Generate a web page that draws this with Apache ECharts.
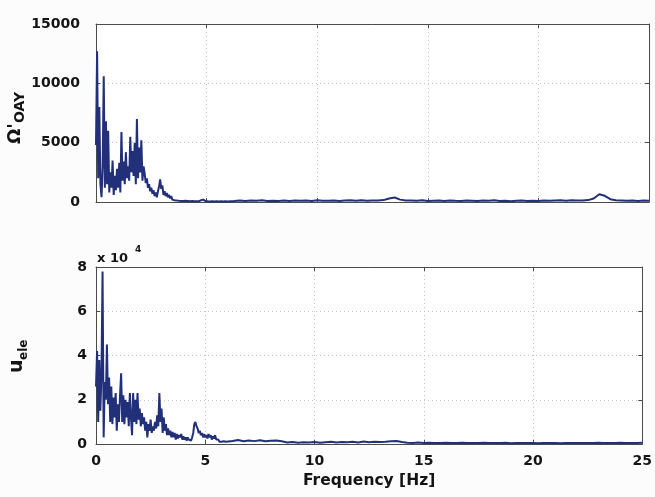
<!DOCTYPE html>
<html>
<head>
<meta charset="utf-8">
<script src="https://cdn.jsdelivr.net/npm/echarts@6/dist/echarts.min.js"></script>
<style>
  html, body { margin: 0; padding: 0; background: #fcfcfc; }
  #chart { width: 655px; height: 497px; }
</style>
</head>
<body>
<div id="chart"></div>
<script>
// Frequency sampling: dense band 0–6 Hz, coarser tail 6.25–25 Hz
const lowBandStep = 0.05;   // Hz
const tailStep = 0.25;      // Hz
const tailStart = 6.25;     // Hz

// Ω'_OAY spectrum, 0–6 Hz
const omegaLow = [
  4800,12700,2000,8000,1500,400,3000,10600,1200,6800,1500,6000,800,2500,1200,3500,600,2200,1000,2800,
  1200,3300,800,5900,1800,3400,1500,4200,2000,3000,1800,5500,2500,4300,2200,5000,1500,7000,2000,4600,
  2500,5200,1800,3000,2400,1600,2000,1200,1500,900,1200,700,1000,500,800,400,900,1300,1900,1100,
  1400,600,900,500,750,400,600,300,500,200,350,150,250,120,200,100,180,90,150,80,
  140,100,180,90,150,70,130,80,110,60,100,70,120,60,90,150,250,200,120,80,
  110,60,90,50,80,60,100,50,80,60,90,50,70,60,80,50,70,60,80,50,70
];
// Ω'_OAY spectrum, 6.25–25 Hz
const omegaTail = [
  90,130,80,120,100,140,90,110,80,120,
  90,130,100,120,80,140,110,100,130,90,120,140,100,150,110,130,120,160,
  300,380,200,130,
  120,100,140,90,110,130,80,120,100,90,130,110,80,120,100,140,90,110,70,100,
  120,80,110,90,130,100,120,140,110,150,130,120,160,300,
  650,520,240,150,130,110,130,90,120,100
];

// u_ele spectrum (×10^-4), 0–6 Hz
const uLow = [
  2.6,4.2,1.0,3.8,1.5,3.2,7.8,0.3,2.8,2.0,4.5,1.8,3.0,1.0,2.6,0.9,2.1,1.2,2.3,0.6,
  1.8,1.0,2.2,3.2,1.0,2.2,0.9,2.0,1.2,1.9,0.8,2.3,1.2,0.4,2.3,1.0,2.0,0.9,2.3,1.1,
  1.6,0.8,1.4,0.9,1.2,0.6,1.0,0.3,0.9,0.6,1.1,0.5,0.8,0.6,1.0,0.7,1.3,0.8,2.3,1.0,
  1.6,0.5,1.2,0.6,0.9,0.4,0.7,0.4,0.6,0.3,0.55,0.3,0.5,0.2,0.45,0.25,0.4,0.3,0.45,0.2,
  0.35,0.2,0.3,0.15,0.3,0.2,0.25,0.15,0.3,0.5,0.9,1.0,0.8,0.7,0.5,0.6,0.4,0.5,0.3,0.45,
  0.3,0.4,0.25,0.45,0.3,0.4,0.2,0.35,0.25,0.4,0.2,0.15,0.2,0.1,0.15,0.1,0.15,0.12,0.18,0.1,0.15
];
// u_ele spectrum (×10^-4), 6.25–25 Hz
const uTail = [
  0.14,0.18,0.12,0.16,0.13,0.17,0.12,0.15,0.16,0.12,
  0.07,0.09,0.06,0.08,0.07,0.09,0.06,0.08,0.1,0.07,0.09,0.08,0.1,0.07,0.11,0.08,0.1,0.09,
  0.1,0.12,0.14,0.09,
  0.06,0.05,0.07,0.05,0.06,0.04,0.05,0.06,0.04,0.05,0.06,0.04,0.05,0.04,0.06,0.05,0.04,
  0.05,0.06,0.03,0.04,0.05,0.04,0.05,0.03,0.04,0.05,0.04,0.03,0.05,0.04,0.05,0.04,0.05,
  0.05,0.06,0.05,0.04,0.05,0.06,0.05,0.04,0.05,0.06
];

// Axis ticks
const freqTicks = [0, 5, 10, 15, 20, 25];
const omegaTicks = [0, 5000, 10000, 15000];
const uTicks = [0, 2, 4, 6, 8];

function toPairs(low, tail) {
  const pts = low.map((v, i) => [+(i * lowBandStep).toFixed(2), v]);
  tail.forEach((v, i) => pts.push([tailStart + i * tailStep, v]));
  return pts;
}

const FONT = 'DejaVu Sans';
const TXT = '#141414';
const FRAME = '#4a4a4a';
const LINE = '#22307a';
const GRIDLINE = { show: true, lineStyle: { color: '#c4c4c4', type: [1, 3], width: 1 } };

function xAxes(gridIndex, withLabels) {
  const base = {
    gridIndex, type: 'value',
    min: freqTicks[0], max: freqTicks[freqTicks.length - 1], interval: freqTicks[1] - freqTicks[0],
    axisLine: { show: true, onZero: false, lineStyle: { color: FRAME, width: 1 } },
    axisTick: { show: true, inside: true, length: 4, lineStyle: { color: FRAME } }
  };
  return [
    Object.assign({}, base, {
      position: 'bottom',
      axisLabel: withLabels
        ? { show: true, margin: 10, color: TXT, fontFamily: FONT, fontWeight: 'bold', fontSize: 14, formatter: v => String(v) }
        : { show: false },
      splitLine: GRIDLINE,
      name: withLabels ? 'Frequency [Hz]' : '',
      nameLocation: 'middle', nameGap: 29,
      nameTextStyle: { color: TXT, fontFamily: FONT, fontWeight: 'bold', fontSize: 15.5 }
    }),
    Object.assign({}, base, {
      position: 'top',
      axisLabel: { show: false }, splitLine: { show: false }
    })
  ];
}

function yAxes(gridIndex, ticks, labelMargin) {
  const base = {
    gridIndex, type: 'value',
    min: ticks[0], max: ticks[ticks.length - 1], interval: ticks[1] - ticks[0],
    axisLine: { show: true, onZero: false, lineStyle: { color: FRAME, width: 1 } },
    axisTick: { show: true, inside: true, length: 4, lineStyle: { color: FRAME } }
  };
  return [
    Object.assign({}, base, {
      position: 'left',
      axisLabel: { show: true, margin: labelMargin, color: TXT, fontFamily: FONT, fontWeight: 'bold', fontSize: 14, formatter: v => String(v) },
      splitLine: GRIDLINE
    }),
    Object.assign({}, base, {
      position: 'right',
      axisLabel: { show: false }, splitLine: { show: false }
    })
  ];
}

const chart = echarts.init(document.getElementById('chart'), null, { renderer: 'canvas' });

chart.setOption({
  backgroundColor: '#fcfcfc',
  animation: false,
  grid: [
    { left: 96, right: 6, top: 24, height: 178, show: true, backgroundColor: '#ffffff', borderWidth: 0 },
    { left: 96, right: 6, top: 267, height: 177, show: true, backgroundColor: '#ffffff', borderWidth: 0 }
  ],
  xAxis: [...xAxes(0, false), ...xAxes(1, true)],
  yAxis: [...yAxes(0, omegaTicks, 16), ...yAxes(1, uTicks, 9)],
  series: [
    {
      type: 'line', xAxisIndex: 0, yAxisIndex: 0, data: toPairs(omegaLow, omegaTail),
      showSymbol: false, symbol: 'none', lineStyle: { color: LINE, width: 2 }
    },
    {
      type: 'line', xAxisIndex: 2, yAxisIndex: 2, data: toPairs(uLow, uTail),
      showSymbol: false, symbol: 'none', lineStyle: { color: LINE, width: 2 }
    }
  ],
  graphic: [
    // y-axis name of the upper panel: Ω'_OAY
    {
      type: 'group', x: 24, y: 144, rotation: Math.PI / 2,
      children: [
        { type: 'text', x: 0, y: 0, style: { text: "Ω'", fontFamily: FONT, fontWeight: 'bold', fontSize: 18, fill: TXT, verticalAlign: 'bottom' } },
        { type: 'text', x: 21, y: 3, style: { text: 'OAY', fontFamily: FONT, fontWeight: 'bold', fontSize: 14, fill: TXT, verticalAlign: 'bottom' } }
      ]
    },
    // y-axis name of the lower panel: u_ele
    {
      type: 'group', x: 27, y: 373, rotation: Math.PI / 2,
      children: [
        { type: 'text', x: 0, y: 0, style: { text: 'u', fontFamily: FONT, fontWeight: 'bold', fontSize: 19, fill: TXT, verticalAlign: 'bottom' } },
        { type: 'text', x: 13, y: 3, style: { text: 'ele', fontFamily: FONT, fontWeight: 'bold', fontSize: 12, fill: TXT, verticalAlign: 'bottom' } }
      ]
    },
    // exponent of the lower panel's y scale
    { type: 'text', x: 97, y: 252, style: { text: 'x 10', fontFamily: FONT, fontWeight: 'bold', fontSize: 13, fill: TXT } },
    { type: 'text', x: 135, y: 245, style: { text: '4', fontFamily: FONT, fontWeight: 'bold', fontSize: 9, fill: TXT } }
  ]
});
</script>
</body>
</html>
